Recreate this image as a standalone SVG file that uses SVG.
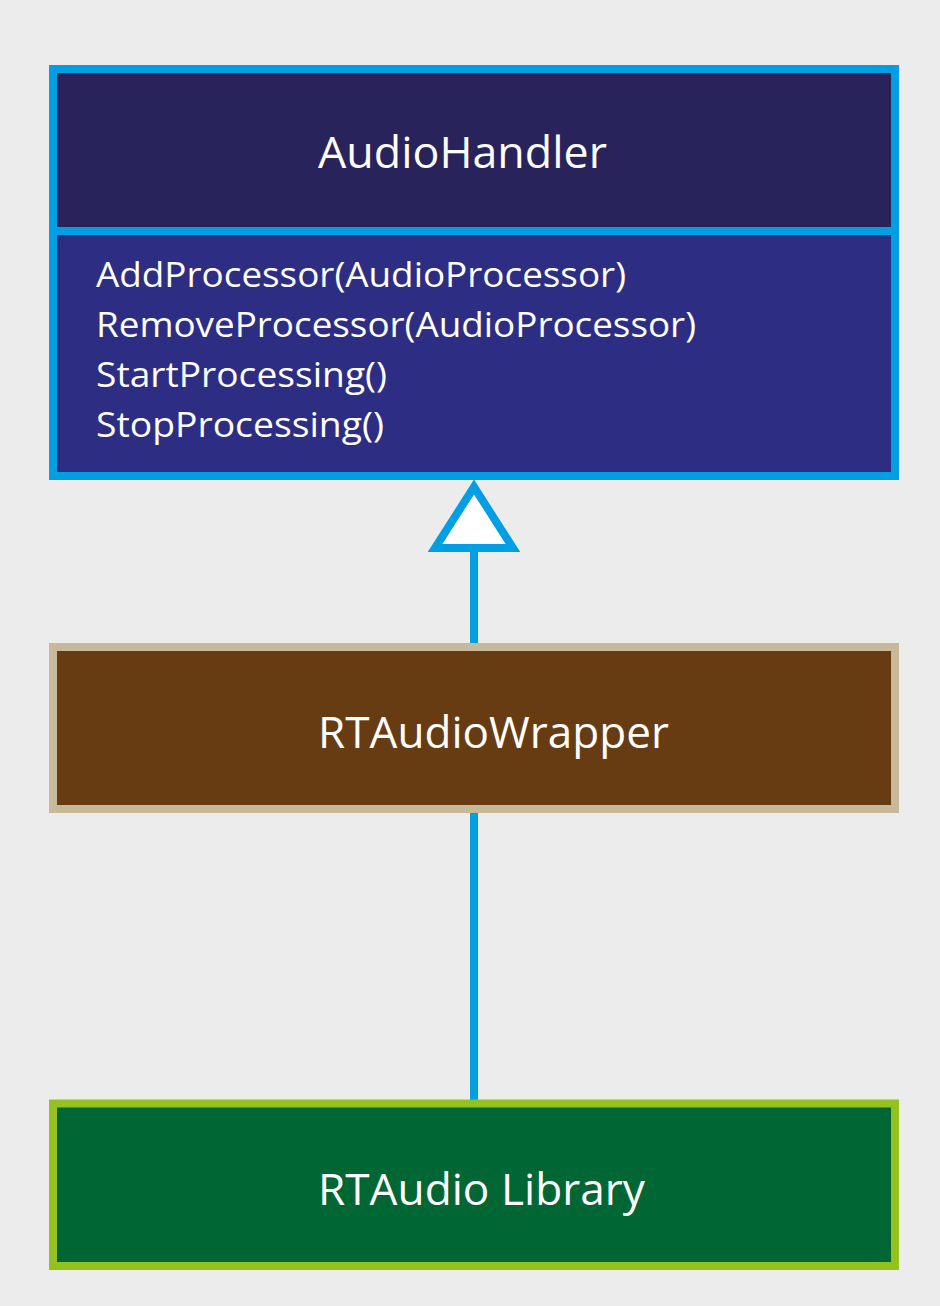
<svg xmlns="http://www.w3.org/2000/svg" width="940" height="1306" viewBox="0 0 940 1306">
<style>
.t{font-family:"Open Sans","Liberation Sans",sans-serif;fill:#ffffff}
.title{font-size:44px}
.m{font-size:35px}
.conn{stroke:#009fe3;stroke-width:8;fill:none}
</style>
<rect width="940" height="1306" fill="#ececec"/>
<g id="connectors">
<line class="conn" x1="474" y1="549" x2="474" y2="647"/>
<polygon points="474,487 435,548 513,548" fill="#ffffff" stroke="#009fe3" stroke-width="8" stroke-linejoin="miter"/>
<line class="conn" x1="474" y1="809" x2="474" y2="1103"/>
</g>
<g id="AudioHandler">
<rect x="53" y="69" width="842" height="162" fill="#29235c"/>
<rect x="53" y="231" width="842" height="245" fill="#2d2e83"/>
<rect x="53" y="69" width="842" height="407" fill="none" stroke="#009fe3" stroke-width="8"/>
<line x1="53" y1="231" x2="895" y2="231" stroke="#009fe3" stroke-width="8"/>
<text class="t title" x="318" y="168" textLength="289" lengthAdjust="spacingAndGlyphs">AudioHandler</text>
<text class="t m" x="96" y="287" textLength="530" lengthAdjust="spacingAndGlyphs">AddProcessor(AudioProcessor)</text>
<text class="t m" x="96" y="337" textLength="600" lengthAdjust="spacingAndGlyphs">RemoveProcessor(AudioProcessor)</text>
<text class="t m" x="96" y="387" textLength="291" lengthAdjust="spacingAndGlyphs">StartProcessing()</text>
<text class="t m" x="96" y="437" textLength="288" lengthAdjust="spacingAndGlyphs">StopProcessing()</text>
</g>
<g id="RTAudioWrapper">
<rect x="53" y="647" width="842" height="162" fill="#673c12" stroke="#c8b99a" stroke-width="8"/>
<text class="t title" x="318" y="748" textLength="351" lengthAdjust="spacingAndGlyphs">RTAudioWrapper</text>
</g>
<g id="RTAudioLibrary">
<rect x="53" y="1103.5" width="842" height="162.5" fill="#006633" stroke="#95c11f" stroke-width="8"/>
<text class="t title" x="318" y="1205" textLength="327" lengthAdjust="spacingAndGlyphs">RTAudio Library</text>
</g>
</svg>
